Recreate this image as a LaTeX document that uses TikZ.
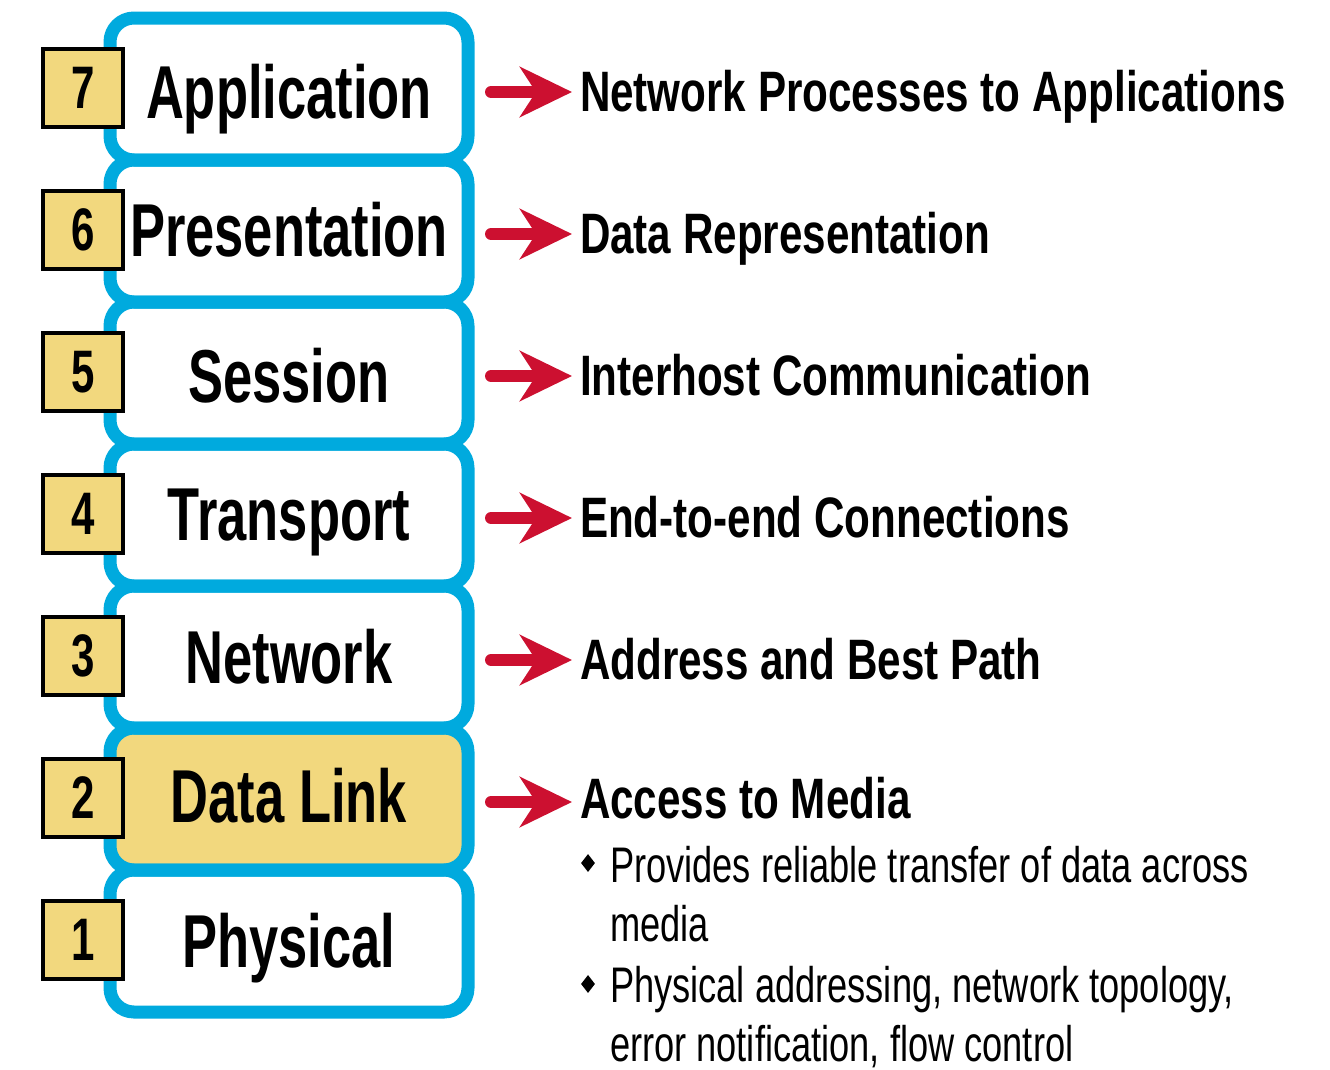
\documentclass[tikz,border=0pt]{standalone}
\usepackage{fontspec}
\usetikzlibrary{arrows.meta,shapes.geometric}
\newfontfamily\titlefont[FakeStretch=0.70]{Liberation Sans Bold}
\newfontfamily\labfont[FakeStretch=0.74]{Liberation Sans Bold}
\newfontfamily\bodyfont[FakeStretch=0.725]{Liberation Sans}
\definecolor{osiblue}{RGB}{0,170,222}
\definecolor{osired}{RGB}{204,16,48}
\definecolor{osiyellow}{RGB}{242,216,126}
\tikzset{
  layerfill/.style={rectangle, rounded corners=24pt, minimum width=358pt, minimum height=142pt, inner sep=0pt, outer sep=0pt},
  layerbox/.style={layerfill, draw=osiblue, line width=13pt},
  numbox/.style={rectangle, draw=black, line width=3.5pt, fill=osiyellow, minimum width=80pt, minimum height=78pt, inner sep=0pt, outer sep=0pt, font=\titlefont\fontsize{60pt}{64pt}\selectfont},
  titletext/.style={anchor=base, inner sep=0pt, outer sep=0pt, font=\titlefont\fontsize{75pt}{80pt}\selectfont},
  labtext/.style={anchor=base west, inner sep=0pt, outer sep=0pt, font=\labfont\fontsize{57pt}{62pt}\selectfont},
  bodytext/.style={anchor=base west, inner sep=0pt, outer sep=0pt, font=\bodyfont\fontsize{50pt}{56pt}\selectfont},
  bulletmark/.style={diamond, fill=black, minimum width=14pt, minimum height=18pt, inner sep=0pt},
  redarrow/.style={draw=osired, line width=12pt, line cap=round, -{Stealth[length=52pt, width=50pt, inset=16pt]}}
}
\begin{document}
\begin{tikzpicture}[x=1pt, y=-1pt]
\useasboundingbox (0,0) rectangle (1330,1069);
% fills
\foreach \k/\n in {0/7,1/6,2/5,3/4,4/3,6/1} {
  \node[layerfill, fill=white] (F\n) at (289, 89+142*\k) {};
}
\node[layerfill, fill=osiyellow] (F2) at (289, 799) {};
% strokes
\foreach \k/\n in {0/7,1/6,2/5,3/4,4/3,5/2,6/1} {
  \node[layerbox] (L\n) at (289, 89+142*\k) {};
  \node[numbox] (N\n) at (83, 88+142*\k) {\n};
}
% titles
\node[titletext] (T7) at (289, 118) {Application};
\node[titletext] (T6) at (289, 256) {Presentation};
\node[titletext] (T5) at (289, 402) {Session};
\node[titletext] (T4) at (289, 540) {Transport};
\node[titletext] (T3) at (289, 683) {Network};
\node[titletext] (T2) at (289, 822) {Data Link};
\node[titletext] (T1) at (289, 967) {Physical};
% labels
\node[labtext] (D7) at (580, 111) {Network Processes to Applications};
\node[labtext] (D6) at (580, 253) {Data Representation};
\node[labtext] (D5) at (580, 395) {Interhost Communication};
\node[labtext] (D4) at (580, 537) {End-to-end Connections};
\node[labtext] (D3) at (580, 679) {Address and Best Path};
\node[labtext] (D2) at (580, 818) {Access to Media};
% arrows
\foreach \n in {7,6,5,4,3,2} {
  \draw[redarrow] ([xshift=23pt, yshift=-3pt]L\n.east) -- ([xshift=-8pt, yshift=-3pt]L\n.east -| D\n.west);
}
% bullets
\node[bulletmark] (M1) at (588, 863) {};
\node[bodytext] (B1) at (610, 882) {Provides reliable transfer of data across};
\node[bodytext] (B2) at (610, 941) {media};
\node[bulletmark] (M2) at (588, 984) {};
\node[bodytext] (B3) at (610, 1002) {Physical addressing, network topology,};
\node[bodytext] (B4) at (610, 1061) {error notification, flow control};
\end{tikzpicture}
\end{document}
